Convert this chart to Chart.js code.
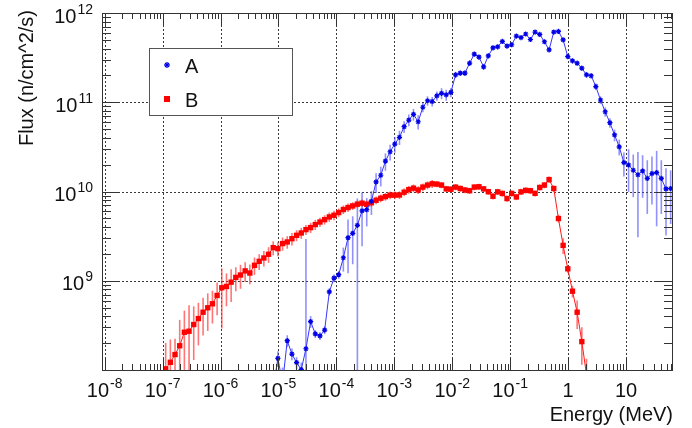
<!DOCTYPE html>
<html>
<head>
<meta charset="utf-8">
<script src="https://cdn.jsdelivr.net/npm/chart.js@4/dist/chart.umd.min.js"></script>
<style>
  html, body { margin: 0; padding: 0; background: #fff; }
</style>
</head>
<body>
<canvas id="fluxChart" width="692" height="428"></canvas>
<script>
// histogram binning: log-uniform bins over the drawn energy range (MeV)
const energyMin = 9.2e-9;
const energyMax = 64.7;
const binCount = 122;

const xTickExponents = [-8, -7, -6, -5, -4, -3, -2, -1, 0, 1];
const yTickExponents = [9, 10, 11, 12];

// series A (blue), first filled bin and flux per bin (n/cm^2/s)
const firstBinA = 36;
const fluxA = [
  6.3e7, 1.35e8, 7.1e7, 2.13e8, 1.51e8, 1.21e8, 1.01e8, 1.73e8, 3.49e8, 2.54e8,
  2.41e8, 2.80e8, 7.52e8, 1.07e9, 1.17e9, 1.81e9, 3.04e9, 3.40e9, 4.18e9, 6.08e9,
  6.25e9, 7.78e9, 1.28e10, 1.52e10, 2.19e10, 2.79e10, 3.40e10, 4.05e10, 5.32e10, 6.32e10,
  7.33e10, 6.05e10, 8.79e10, 1.04e11, 1.02e11, 1.18e11, 1.26e11, 1.21e11, 1.29e11, 2.03e11,
  2.12e11, 2.12e11, 2.74e11, 3.46e11, 3.21e11, 2.49e11, 3.31e11, 4.07e11, 4.18e11, 4.80e11,
  4.26e11, 4.41e11, 5.52e11, 5.31e11, 5.82e11, 5.05e11, 6.12e11, 5.75e11, 4.76e11, 3.87e11,
  6.12e11, 6.21e11, 5.01e11, 3.25e11, 2.91e11, 2.74e11, 2.41e11, 2.03e11, 1.98e11, 1.50e11,
  1.06e11, 7.83e10, 5.90e10, 4.30e10, 3.17e10, 2.11e10, 1.98e10, 1.73e10, 1.54e10, 1.70e10,
  1.40e10, 1.59e10, 1.63e10, 1.40e10, 1.07e10, 1.08e10
];
// relative errors of A
const errA = [
  0.5, 0.2, 0.5, 0.15, 0.15, 0.15, 0.2, 16, 0.15, 0.1,
  0.1, 0.1, 0.1, 0.1, 0.1, 0.3, 0.6, 0.55, 1.0, 0.6,
  0.35, 0.3, 0.25, 0.25, 0.22, 0.2, 0.2, 0.18, 0.15, 0.15,
  0.15, 0.18, 0.12, 0.12, 0.12, 0.12, 0.14, 0.14, 0.12, 0.08,
  0.07, 0.07, 0.07, 0.06, 0.06, 0.07, 0.06, 0.06, 0.06, 0.06,
  0.06, 0.06, 0.05, 0.05, 0.05, 0.05, 0.05, 0.05, 0.05, 0.06,
  0.05, 0.05, 0.05, 0.06, 0.06, 0.06, 0.06, 0.07, 0.07, 0.08,
  0.1, 0.12, 0.12, 0.15, 0.2, 0.3, 0.5, 0.5, 0.8, 0.5,
  0.6, 0.55, 0.75, 0.6, 0.7, 0.6
];

// series B (red)
const firstBinB = 13;
const fluxB = [
  1.03e8, 1.22e8, 1.49e8, 1.87e8, 2.65e8, 2.72e8, 3.23e8, 3.77e8, 4.44e8, 4.98e8,
  5.52e8, 6.84e8, 8.34e8, 8.63e8, 9.64e8, 1.09e9, 1.16e9, 1.29e9, 1.22e9, 1.49e9,
  1.65e9, 1.80e9, 1.98e9, 2.35e9, 2.29e9, 2.61e9, 2.72e9, 2.96e9, 3.23e9, 3.43e9,
  3.74e9, 3.94e9, 4.26e9, 4.55e9, 4.84e9, 5.19e9, 5.42e9, 5.81e9, 6.28e9, 6.61e9,
  6.89e9, 7.21e9, 7.40e9, 7.19e9, 7.48e9, 7.98e9, 8.41e9, 8.75e9, 9.10e9, 9.10e9,
  9.14e9, 9.82e9, 1.05e10, 1.09e10, 1.04e10, 1.12e10, 1.18e10, 1.22e10, 1.21e10, 1.18e10,
  1.07e10, 1.06e10, 1.12e10, 1.08e10, 1.04e10, 1.02e10, 1.12e10, 1.13e10, 1.07e10, 9.95e9,
  8.85e9, 9.91e9, 9.51e9, 8.34e9, 9.51e9, 8.69e9, 9.91e9, 1.03e10, 1.02e10, 9.53e9,
  1.11e10, 1.18e10, 1.36e10, 1.08e10, 4.98e9, 2.49e9, 1.36e9, 7.64e8, 4.44e8, 2.08e8, 8.9e7
];
const errB = [
  0.95, 0.8, 0.5, 0.95, 0.75, 0.95, 0.6, 0.5, 0.45, 0.45,
  0.4, 0.4, 0.65, 0.4, 0.4, 0.3, 0.3, 0.25, 0.25, 0.22,
  0.2, 0.2, 0.2, 0.18, 0.18, 0.17, 0.16, 0.16, 0.14, 0.14,
  0.13, 0.13, 0.13, 0.12, 0.12, 0.12, 0.12, 0.11, 0.11, 0.11,
  0.1, 0.1, 0.1, 0.1, 0.1, 0.1, 0.1, 0.1, 0.1, 0.1,
  0.1, 0.1, 0.1, 0.1, 0.1, 0.1, 0.1, 0.1, 0.08, 0.08,
  0.08, 0.08, 0.08, 0.08, 0.08, 0.08, 0.08, 0.08, 0.08, 0.08,
  0.08, 0.08, 0.08, 0.08, 0.08, 0.08, 0.08, 0.08, 0.08, 0.08,
  0.08, 0.08, 0.08, 0.08, 0.1, 0.2, 0.1, 0.15, 0.35, 0.45, 0.5
];

const FONT = "'Liberation Sans', Arial, sans-serif";

function binCenter(j) {
    const lo = Math.log10(energyMin), hi = Math.log10(energyMax);
    return Math.pow(10, lo + (j + 0.5) * (hi - lo) / binCount);
}

function toPoints(firstBin, values) {
    return values.map((v, k) => ({ x: binCenter(firstBin + k), y: v }));
}

function line(ctx, x1, y1, x2, y2) {
    ctx.beginPath();
    ctx.moveTo(x1, y1);
    ctx.lineTo(x2, y2);
    ctx.stroke();
}

// "10" with superscript exponent, like ROOT's log axis labels
function powLabelWidth(ctx, e) {
    ctx.font = "20px " + FONT;
    if (e === 0) return ctx.measureText("1").width;
    const w1 = ctx.measureText("10").width;
    if (e === 1) return w1;
    ctx.font = "14px " + FONT;
    return w1 + 1 + ctx.measureText(String(e).replace("-", "\u2011")).width;
}

function drawPowLabel(ctx, e, left, baseline) {
    ctx.textAlign = "left";
    ctx.font = "20px " + FONT;
    if (e === 0) { ctx.fillText("1", left, baseline); return; }
    ctx.fillText("10", left, baseline);
    if (e === 1) return;
    const w1 = ctx.measureText("10").width;
    ctx.font = "14px " + FONT;
    ctx.fillText(String(e).replace("-", "\u2011"), left + w1 + 1, baseline - 9);
}

const rootStyle = {
    id: "rootStyle",
    beforeDatasetsDraw(chart) {
        const { ctx, chartArea: a } = chart;
        const x = chart.scales.x, y = chart.scales.y;
        ctx.save();
        // dotted grid at decades
        ctx.strokeStyle = "#3a3a3a";
        ctx.lineWidth = 1;
        ctx.setLineDash([2, 2]);
        xTickExponents.forEach(e => {
            const px = Math.round(x.getPixelForValue(Math.pow(10, e))) + 0.5;
            line(ctx, px, a.top, px, a.bottom);
        });
        yTickExponents.forEach(e => {
            const py = Math.round(y.getPixelForValue(Math.pow(10, e))) + 0.5;
            line(ctx, a.left, py, a.right, py);
        });
        ctx.setLineDash([]);

        // vertical error bars
        ctx.beginPath();
        ctx.rect(a.left, a.top, a.right - a.left, a.bottom - a.top);
        ctx.clip();
        ctx.lineWidth = 1.6;
        chart.data.datasets.forEach((ds, i) => {
            const meta = chart.getDatasetMeta(i);
            ctx.strokeStyle = ds.errorColor;
            meta.data.forEach((pt, k) => {
                const v = ds.data[k].y;
                const err = ds.errors[k] * v;
                const top = y.getPixelForValue(v + err);
                const bot = v - err > 0 ? y.getPixelForValue(v - err) : a.bottom + 5;
                line(ctx, pt.x, top, pt.x, Math.min(bot, a.bottom + 5));
            });
        });
        ctx.restore();
    },
    afterDraw(chart) {
        const { ctx, chartArea: a } = chart;
        const x = chart.scales.x, y = chart.scales.y;
        ctx.save();
        ctx.strokeStyle = "#333";
        ctx.lineWidth = 1;

        // tick marks on all four sides, pointing inward
        for (let n = -9; n <= 1; n++) {
            for (let m = 1; m <= 9; m++) {
                const v = m * Math.pow(10, n);
                if (v < energyMin || v > energyMax) continue;
                const px = Math.round(x.getPixelForValue(v)) + 0.5;
                const len = m === 1 ? 12 : 6;
                line(ctx, px, a.bottom, px, a.bottom - len);
                line(ctx, px, a.top, px, a.top + len);
            }
        }
        for (let n = 8; n <= 11; n++) {
            for (let m = 1; m <= 9; m++) {
                const v = m * Math.pow(10, n);
                const py = Math.round(y.getPixelForValue(v)) + 0.5;
                const len = m === 1 ? 17 : 9;
                line(ctx, a.left, py, a.left + len, py);
                line(ctx, a.right, py, a.right - len, py);
            }
        }
        const tpy = Math.round(y.getPixelForValue(1e12)) + 0.5;
        line(ctx, a.left, tpy, a.left + 17, tpy);

        // frame
        ctx.strokeRect(a.left + 0.5, a.top + 0.5, a.right - a.left - 1, a.bottom - a.top);

        // tick labels
        ctx.fillStyle = "#111";
        xTickExponents.forEach(e => {
            const px = x.getPixelForValue(Math.pow(10, e));
            const w = powLabelWidth(ctx, e);
            drawPowLabel(ctx, e, px - w / 2, a.bottom + 27);
        });
        yTickExponents.forEach(e => {
            const py = y.getPixelForValue(Math.pow(10, e));
            const w = powLabelWidth(ctx, e);
            drawPowLabel(ctx, e, a.left - 9 - w, py + 9.5);
        });

        // axis titles
        ctx.font = "20px " + FONT;
        ctx.textAlign = "right";
        ctx.fillText("Energy (MeV)", a.right, 421);
        ctx.save();
        ctx.translate(33, 10);
        ctx.rotate(-Math.PI / 2);
        ctx.fillText("Flux (n/cm^2/s)", 0, 0);
        ctx.restore();

        // legend box
        ctx.fillStyle = "#fff";
        ctx.fillRect(149.5, 48.5, 143, 67);
        ctx.strokeStyle = "#555";
        ctx.strokeRect(149.5, 48.5, 143, 67);
        const dsA = chart.data.datasets[0], dsB = chart.data.datasets[1];
        ctx.strokeStyle = dsA.pointBorderColor;
        ctx.lineWidth = 1.3;
        line(ctx, 164, 65, 170, 65);
        line(ctx, 167, 62, 167, 68);
        line(ctx, 165, 63, 169, 67);
        line(ctx, 165, 67, 169, 63);
        ctx.fillStyle = dsB.pointBackgroundColor;
        ctx.fillRect(164, 96, 6, 6);
        ctx.fillStyle = "#111";
        ctx.font = "20px " + FONT;
        ctx.textAlign = "left";
        ctx.fillText(dsA.label, 185, 72.5);
        ctx.fillText(dsB.label, 185, 106.5);
        ctx.restore();
    }
};

document.addEventListener("DOMContentLoaded", function () {
    let ctx = document.getElementById("fluxChart").getContext("2d");
    new Chart(ctx, {
        type: "line",
        data: {
            datasets: [{
                label: "A",
                data: toPoints(firstBinA, fluxA),
                errors: errA,
                errorColor: "rgba(70, 70, 255, 0.6)",
                borderColor: "#3535ff",
                borderWidth: 1,
                pointStyle: "star",
                pointRadius: 2.6,
                pointBorderWidth: 1.2,
                pointBorderColor: "#0000e6",
                pointBackgroundColor: "#0000e6",
                tension: 0,
                clip: 0
            }, {
                label: "B",
                data: toPoints(firstBinB, fluxB),
                errors: errB,
                errorColor: "rgba(255, 50, 50, 0.68)",
                borderColor: "#ff1a1a",
                borderWidth: 1,
                pointStyle: "rect",
                pointRadius: 3.8,
                pointBorderWidth: 0,
                pointBorderColor: "#ff0000",
                pointBackgroundColor: "#ff0000",
                tension: 0,
                clip: 0
            }]
        },
        options: {
            responsive: false,
            animation: false,
            events: [],
            layout: { padding: { top: 13, right: 19, left: 0, bottom: 0 } },
            plugins: {
                legend: { display: false },
                tooltip: { enabled: false }
            },
            scales: {
                x: {
                    type: "logarithmic",
                    min: energyMin,
                    max: energyMax,
                    ticks: { display: false },
                    grid: { display: false },
                    border: { display: false },
                    afterFit: s => { s.height = 58; }
                },
                y: {
                    type: "logarithmic",
                    min: 1e8,
                    max: 1e12,
                    ticks: { display: false },
                    grid: { display: false },
                    border: { display: false },
                    afterFit: s => { s.width = 102; }
                }
            }
        },
        plugins: [rootStyle]
    });
});
</script>
</body>
</html>
